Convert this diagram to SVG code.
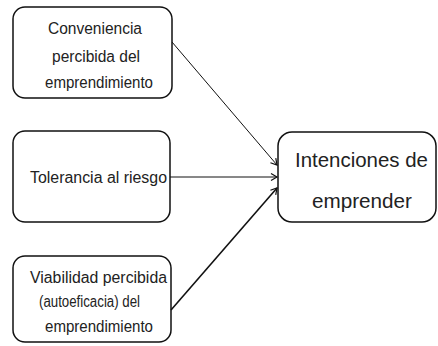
<svg xmlns="http://www.w3.org/2000/svg" width="438" height="346" viewBox="0 0 438 346">
<style>
.box{fill:#fff;stroke:#111;stroke-width:1.5}
.t{font-family:"Liberation Sans",Arial,sans-serif;font-size:16px;fill:#222}
.tb{font-family:"Liberation Sans",Arial,sans-serif;font-size:20.5px;fill:#222}
.c{stroke:#111;fill:none}
</style>
<defs>
<marker id="ah" markerWidth="10" markerHeight="10" refX="8" refY="5" orient="auto" markerUnits="userSpaceOnUse">
<path d="M2,1.5 L8,5 L2,8.5" fill="none" stroke="#111" stroke-width="1.2"/>
</marker>
</defs>
<rect width="438" height="346" fill="#fff"/>
<g id="n1">
<rect class="box" x="13" y="7" width="159" height="91" rx="12"/>
<text class="t" x="48" y="34" textLength="94" lengthAdjust="spacingAndGlyphs">Conveniencia</text>
<text class="t" x="52" y="62" textLength="88" lengthAdjust="spacingAndGlyphs">percibida del</text>
<text class="t" x="45" y="88" textLength="108" lengthAdjust="spacingAndGlyphs">emprendimiento</text>
</g>
<g id="n2">
<rect class="box" x="13" y="131" width="157" height="91" rx="12"/>
<text class="t" x="30" y="183" textLength="137" lengthAdjust="spacingAndGlyphs">Tolerancia al riesgo</text>
</g>
<g id="n3">
<rect class="box" x="13" y="256" width="158" height="86" rx="12"/>
<text class="t" x="30" y="283" textLength="137" lengthAdjust="spacingAndGlyphs">Viabilidad percibida</text>
<text class="t" x="39" y="307" textLength="101" lengthAdjust="spacingAndGlyphs">(autoeficacia) del</text>
<text class="t" x="45" y="332" textLength="108" lengthAdjust="spacingAndGlyphs">emprendimiento</text>
</g>
<g id="n4">
<rect class="box" x="278" y="132" width="158" height="90" rx="14"/>
<text class="tb" x="295" y="167" textLength="133" lengthAdjust="spacingAndGlyphs">Intenciones de</text>
<text class="tb" x="312" y="208" textLength="100" lengthAdjust="spacingAndGlyphs">emprender</text>
</g>
<g id="connectors">
<line class="c" x1="172" y1="42" x2="277" y2="165" stroke-width="1" marker-end="url(#ah)"/>
<line class="c" x1="170" y1="177" x2="277" y2="177" stroke-width="1" marker-end="url(#ah)"/>
<line class="c" x1="171" y1="310" x2="277" y2="188" stroke-width="1.6" marker-end="url(#ah)"/>
</g>
</svg>
